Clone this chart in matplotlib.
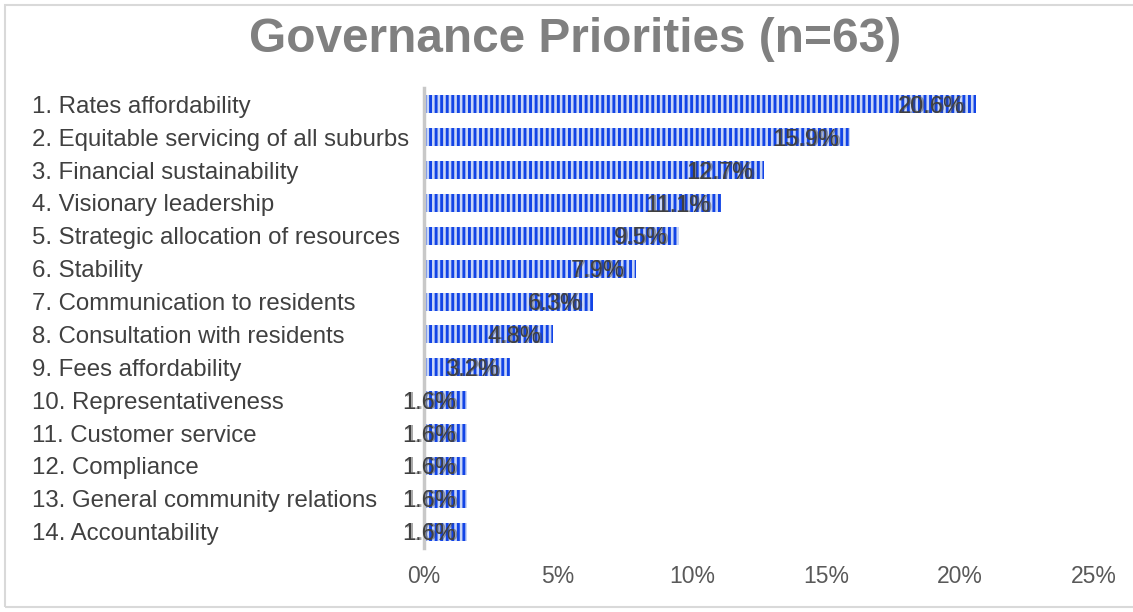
import matplotlib.pyplot as plt
from matplotlib.patches import Rectangle
from matplotlib.transforms import blended_transform_factory, offset_copy

plt.rcParams['font.family'] = ['Liberation Sans', 'DejaVu Sans']
plt.rcParams['hatch.linewidth'] = 2.1

categories = [
    "1. Rates affordability",
    "2. Equitable servicing of all suburbs",
    "3. Financial sustainability",
    "4. Visionary leadership",
    "5. Strategic allocation of resources",
    "6. Stability",
    "7. Communication to residents",
    "8. Consultation with residents",
    "9. Fees affordability",
    "10. Representativeness",
    "11. Customer service",
    "12. Compliance",
    "13. General community relations",
    "14. Accountability",
]
values = [20.6, 15.9, 12.7, 11.1, 9.5, 7.9, 6.3, 4.8, 3.2, 1.6, 1.6, 1.6, 1.6, 1.6]
x_ticks = [0, 5, 10, 15, 20, 25]
x_tick_labels = ["0%", "5%", "10%", "15%", "20%", "25%"]

fig = plt.figure(figsize=(11.33, 6.12), dpi=100)
ax = fig.add_axes([424 / 1133, 1 - 548 / 612, (1094 - 424) / 1133, (548 - 88) / 612])

# outer frame of the chart area
fig.patches.append(Rectangle((5 / 1133, 5 / 612), 1.2, 1 - 10 / 612,
                             transform=fig.transFigure, fill=False,
                             edgecolor='#d9d9d9', linewidth=1.5))

ypos = list(range(len(categories)))
ax.barh(ypos, values, height=0.55, color='#c9d6f6', edgecolor='#1244e6',
        linewidth=0, hatch='|||')

ax.set_xlim(0, 25)
ax.set_ylim(len(categories) - 0.5, -0.5)
ax.set_xticks(x_ticks)
ax.set_xticklabels(x_tick_labels, fontsize=16.5, color='#595959')
ax.tick_params(axis='x', length=0, pad=12)
ax.set_yticks([])
for s in ['top', 'right', 'bottom']:
    ax.spines[s].set_visible(False)
ax.spines['left'].set_color('#c8c8c8')
ax.spines['left'].set_linewidth(2.5)
ax.spines['left'].set_zorder(3)

# category names on the left
tr = blended_transform_factory(fig.transFigure, ax.transData)
for y, name in zip(ypos, categories):
    ax.text(32 / 1133, y, name, transform=tr, ha='left', va='center_baseline',
            fontsize=17.3, color='#404040')

# value labels, inside the bar end (drawn twice, slightly offset)
for y, v in zip(ypos, values):
    for dx, a in ((-9, 0.45), (-11, 1.0)):
        t = offset_copy(ax.transData, fig=fig, x=dx, y=0, units='dots')
        ax.text(v, y, f"{v:.1f}%", transform=t, ha='right', va='center_baseline',
                fontsize=17, color='#404040', alpha=a, zorder=4)

fig.text(575 / 1133, 1 - 39 / 612, "Governance Priorities (n=63)", ha='center', va='center',
         fontsize=34.4, fontweight='bold', color='#808080')

fig.savefig('out.png', dpi=100)
